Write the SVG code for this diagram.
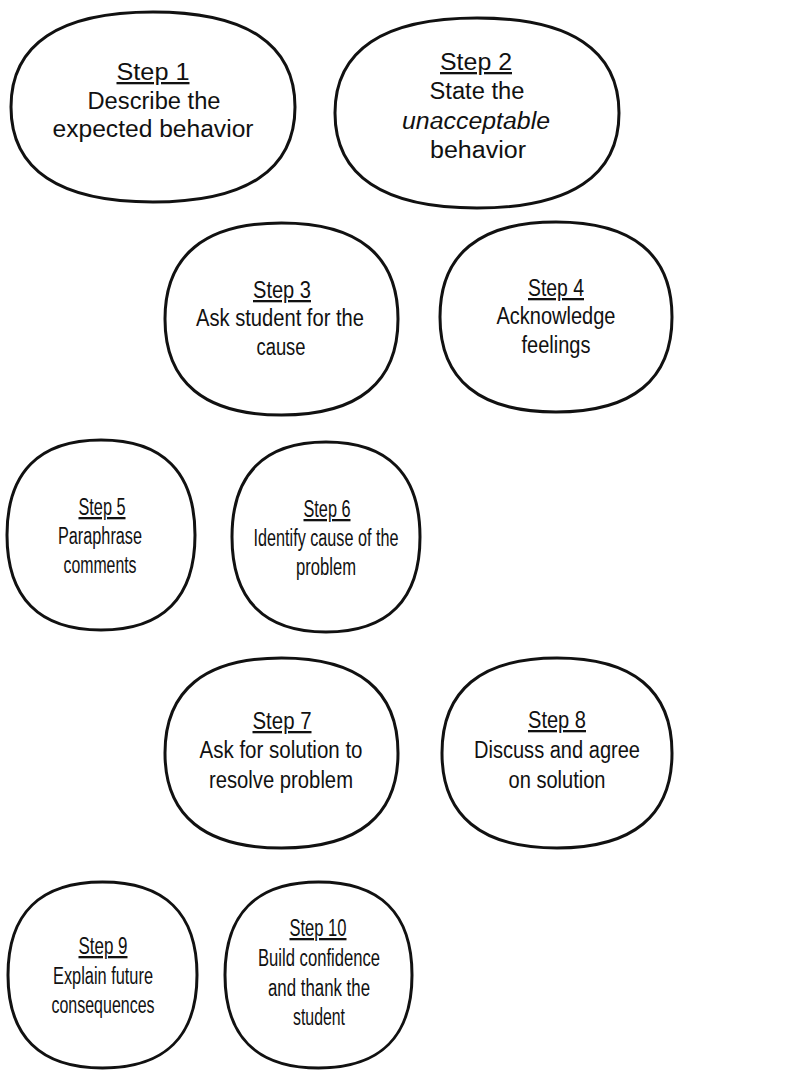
<svg xmlns="http://www.w3.org/2000/svg" width="787" height="1070" viewBox="0 0 787 1070">
  <style>
    .oval { fill: #fff; stroke: #111; stroke-width: 3; }
    .lbl { font-family: "Liberation Sans", Arial, sans-serif; font-size: 23px; fill: #111; text-anchor: middle; }
    .step { text-decoration: underline; }
    .it { font-style: italic; }
  </style>
  <rect width="787" height="1070" fill="#fff"/>

  <!-- rounded squircle nodes: left-mid start, four cubic quadrants;
       each line is fitted to its width with textLength -->
  <g id="step1">
    <path class="oval" d="M11,107 C11,44.3 59.3,12 153,12 C246.7,12 295,44.3 295,107 C295,169.7 246.7,202 153,202 C59.3,202 11,169.7 11,107 Z"/>
    <text class="lbl step" x="153" y="80" textLength="73" lengthAdjust="spacingAndGlyphs">Step 1</text>
    <text class="lbl" x="154" y="109" textLength="133" lengthAdjust="spacingAndGlyphs">Describe the</text>
    <text class="lbl" x="153" y="137" textLength="201" lengthAdjust="spacingAndGlyphs">expected behavior</text>
  </g>

  <g id="step2">
    <path class="oval" d="M335,113 C335,50.3 383.3,18 477,18 C570.7,18 619,50.3 619,113 C619,175.7 570.7,208 477,208 C383.3,208 335,175.7 335,113 Z"/>
    <text class="lbl step" x="476" y="70" textLength="72" lengthAdjust="spacingAndGlyphs">Step 2</text>
    <text class="lbl" x="477" y="99" textLength="95" lengthAdjust="spacingAndGlyphs">State the</text>
    <text class="lbl it" x="476" y="129" textLength="148" lengthAdjust="spacingAndGlyphs">unacceptable</text>
    <text class="lbl" x="478" y="158" textLength="96" lengthAdjust="spacingAndGlyphs">behavior</text>
  </g>

  <g id="step3">
    <path class="oval" d="M165,319 C165,255.6 204.6,223 281.5,223 C358.4,223 398,255.6 398,319 C398,382.4 358.4,415 281.5,415 C204.6,415 165,382.4 165,319 Z"/>
    <text class="lbl step" x="282" y="298" textLength="58" lengthAdjust="spacingAndGlyphs">Step 3</text>
    <text class="lbl" x="280" y="326" textLength="168" lengthAdjust="spacingAndGlyphs">Ask student for the</text>
    <text class="lbl" x="281" y="355" textLength="49" lengthAdjust="spacingAndGlyphs">cause</text>
  </g>

  <g id="step4">
    <path class="oval" d="M440,317 C440,254.3 479.4,222 556,222 C632.6,222 672,254.3 672,317 C672,379.7 632.6,412 556,412 C479.4,412 440,379.7 440,317 Z"/>
    <text class="lbl step" x="556" y="296" textLength="56" lengthAdjust="spacingAndGlyphs">Step 4</text>
    <text class="lbl" x="556" y="324" textLength="119" lengthAdjust="spacingAndGlyphs">Acknowledge</text>
    <text class="lbl" x="556" y="353" textLength="69" lengthAdjust="spacingAndGlyphs">feelings</text>
  </g>

  <g id="step5">
    <path class="oval" d="M7,535 C7,472.3 39,440 101,440 C163,440 195,472.3 195,535 C195,597.7 163,630 101,630 C39,630 7,597.7 7,535 Z"/>
    <text class="lbl step" x="102" y="515" textLength="47" lengthAdjust="spacingAndGlyphs">Step 5</text>
    <text class="lbl" x="100" y="544" textLength="84" lengthAdjust="spacingAndGlyphs">Paraphrase</text>
    <text class="lbl" x="100" y="573" textLength="73" lengthAdjust="spacingAndGlyphs">comments</text>
  </g>

  <g id="step6">
    <path class="oval" d="M232,537 C232,474.3 264,442 326,442 C388,442 420,474.3 420,537 C420,599.7 388,632 326,632 C264,632 232,599.7 232,537 Z"/>
    <text class="lbl step" x="327" y="517" textLength="47" lengthAdjust="spacingAndGlyphs">Step 6</text>
    <text class="lbl" x="326" y="546" textLength="145" lengthAdjust="spacingAndGlyphs">Identify cause of the</text>
    <text class="lbl" x="326" y="575" textLength="60" lengthAdjust="spacingAndGlyphs">problem</text>
  </g>

  <g id="step7">
    <path class="oval" d="M165,753 C165,690.3 204.6,658 281.5,658 C358.4,658 398,690.3 398,753 C398,815.7 358.4,848 281.5,848 C204.6,848 165,815.7 165,753 Z"/>
    <text class="lbl step" x="282" y="729" textLength="59" lengthAdjust="spacingAndGlyphs">Step 7</text>
    <text class="lbl" x="281" y="758" textLength="163" lengthAdjust="spacingAndGlyphs">Ask for solution to</text>
    <text class="lbl" x="281" y="788" textLength="144" lengthAdjust="spacingAndGlyphs">resolve problem</text>
  </g>

  <g id="step8">
    <path class="oval" d="M442,753 C442,690.3 481.1,658 557,658 C632.9,658 672,690.3 672,753 C672,815.7 632.9,848 557,848 C481.1,848 442,815.7 442,753 Z"/>
    <text class="lbl step" x="557" y="728" textLength="58" lengthAdjust="spacingAndGlyphs">Step 8</text>
    <text class="lbl" x="557" y="758" textLength="166" lengthAdjust="spacingAndGlyphs">Discuss and agree</text>
    <text class="lbl" x="557" y="788" textLength="97" lengthAdjust="spacingAndGlyphs">on solution</text>
  </g>

  <g id="step9">
    <path class="oval" d="M8,975 C8,913.6 40.1,882 102.5,882 C164.9,882 197,913.6 197,975 C197,1036.4 164.9,1068 102.5,1068 C40.1,1068 8,1036.4 8,975 Z"/>
    <text class="lbl step" x="103" y="954" textLength="49" lengthAdjust="spacingAndGlyphs">Step 9</text>
    <text class="lbl" x="103" y="984" textLength="100" lengthAdjust="spacingAndGlyphs">Explain future</text>
    <text class="lbl" x="103" y="1013" textLength="103" lengthAdjust="spacingAndGlyphs">consequences</text>
  </g>

  <g id="step10">
    <path class="oval" d="M225,975 C225,913.6 256.8,882 318.5,882 C380.2,882 412,913.6 412,975 C412,1036.4 380.2,1068 318.5,1068 C256.8,1068 225,1036.4 225,975 Z"/>
    <text class="lbl step" x="318" y="936" textLength="57" lengthAdjust="spacingAndGlyphs">Step 10</text>
    <text class="lbl" x="319" y="966" textLength="122" lengthAdjust="spacingAndGlyphs">Build confidence</text>
    <text class="lbl" x="319" y="996" textLength="102" lengthAdjust="spacingAndGlyphs">and thank the</text>
    <text class="lbl" x="319" y="1025" textLength="52" lengthAdjust="spacingAndGlyphs">student</text>
  </g>

  <!-- the steps stand alone; no lines join them -->
  <g id="connectors"/>
</svg>
